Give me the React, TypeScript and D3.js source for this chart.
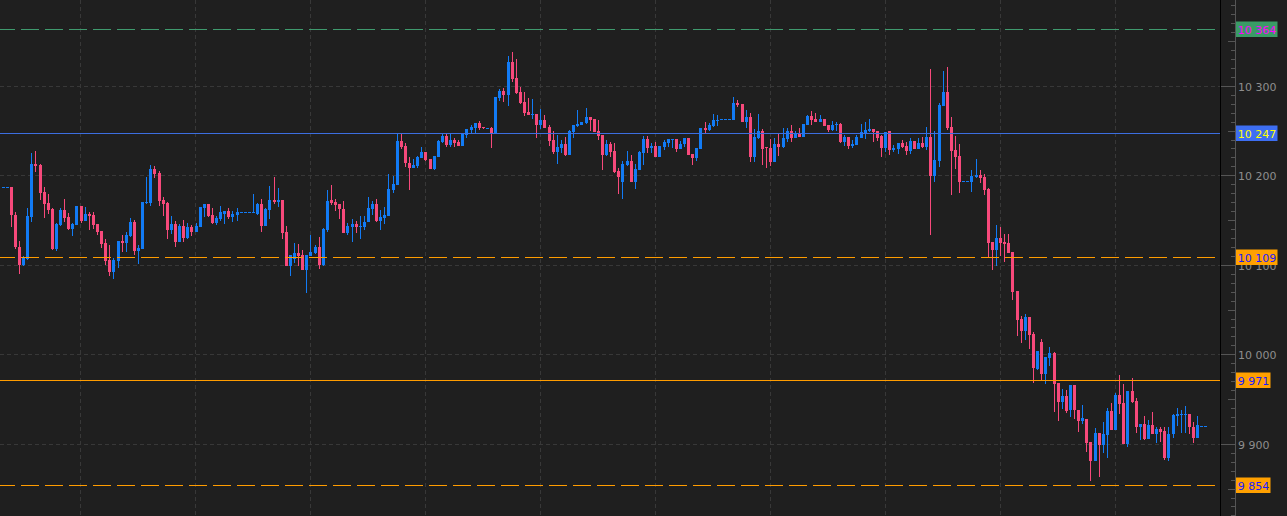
import * as d3 from "d3";

// Candle chart — dark theme, price axis on the right, coloured level lines with price tags

const W = 1287;
const H = 516;

const BG = "#1f1f1f";
const UP = "#127bf5";
const DOWN = "#f7497b";
const GRID = "#383838";
const AXIS_TEXT = "#8e8e8e";

const PLOT_RIGHT = 1220; // black separator line
const AXIS_X = 1235; // tick baseline

const opens = [
  10187, 10187, 10188, 10156, 10120, 10100, 10107, 10154, 10213, 10212,
  10182, 10170, 10163, 10118, 10145, 10162, 10154, 10141, 10145, 10166,
  10150, 10157, 10156, 10146, 10138, 10125, 10106, 10092, 10105, 10127,
  10125, 10133, 10148, 10116, 10118, 10170, 10170, 10208, 10203, 10173,
  10170, 10140, 10146, 10126, 10144, 10131, 10143, 10137, 10143, 10164,
  10169, 10156, 10147, 10152, 10157, 10161, 10154, 10156, 10159, 10159,
  10159, 10158, 10157, 10169, 10144, 10162, 10173, 10171, 10173, 10137,
  10099, 10107, 10114, 10112, 10095, 10110, 10114, 10121, 10100, 10140,
  10173, 10171, 10169, 10163, 10136, 10143, 10146, 10143, 10143, 10148,
  10163, 10169, 10150, 10153, 10155, 10184, 10190, 10239, 10233, 10214,
  10209, 10211, 10220, 10227, 10219, 10208, 10221, 10238, 10244, 10234,
  10240, 10238, 10233, 10246, 10251, 10253, 10259, 10255, 10253, 10253,
  10248, 10287, 10295, 10290, 10327, 10309, 10294, 10282, 10271, 10269,
  10269, 10257, 10262, 10255, 10240, 10227, 10231, 10235, 10223, 10249,
  10256, 10257, 10259, 10266, 10264, 10250, 10246, 10223, 10235, 10228,
  10205, 10193, 10212, 10216, 10193, 10207, 10226, 10241, 10231, 10233,
  10221, 10232, 10237, 10240, 10241, 10230, 10235, 10242, 10224, 10220,
  10230, 10253, 10251, 10256, 10262, 10263, 10263, 10263, 10262, 10281,
  10280, 10260, 10266, 10221, 10242, 10250, 10232, 10231, 10215, 10236,
  10232, 10241, 10250, 10242, 10247, 10243, 10257, 10267, 10264, 10260,
  10264, 10257, 10251, 10257, 10258, 10238, 10243, 10233, 10234, 10242,
  10248, 10250, 10252, 10250, 10245, 10231, 10250, 10229, 10230, 10237,
  10233, 10228, 10239, 10230, 10237, 10232, 10243, 10200, 10217, 10278,
  10294, 10255, 10229, 10222, 10194, 10194, 10193, 10199, 10201, 10199,
  10185, 10126, 10117, 10131, 10126, 10125, 10115, 10071, 10040, 10027,
  10042, 10023, 9984, 10014, 9979, 9996, 10002, 9968, 9947, 9954,
  9938, 9966, 9938, 9926, 9928, 9903, 9881, 9913, 9899, 9910,
  9937, 9916, 9955, 9946, 9900, 9960, 9948, 9919, 9923, 9906,
  9922, 9912, 9917, 9915, 9885, 9911, 9932, 9933, 9933, 9934,
  9919, 9907, 9921, 9921,
];

const highs = [
  10187, 10187, 10188, 10160, 10127, 10110, 10164, 10226, 10228, 10213,
  10188, 10180, 10164, 10147, 10164, 10174, 10158, 10147, 10166, 10166,
  10165, 10159, 10159, 10146, 10138, 10129, 10123, 10108, 10127, 10134,
  10137, 10153, 10151, 10123, 10171, 10199, 10212, 10211, 10205, 10176,
  10171, 10155, 10150, 10146, 10151, 10147, 10145, 10147, 10165, 10169,
  10169, 10164, 10155, 10166, 10161, 10164, 10161, 10164, 10159, 10159,
  10159, 10180, 10170, 10174, 10164, 10189, 10199, 10186, 10173, 10144,
  10112, 10125, 10124, 10117, 10112, 10134, 10123, 10132, 10142, 10184,
  10190, 10174, 10169, 10172, 10147, 10152, 10150, 10155, 10155, 10176,
  10172, 10174, 10162, 10165, 10202, 10200, 10247, 10247, 10237, 10221,
  10219, 10222, 10232, 10227, 10219, 10222, 10240, 10247, 10247, 10247,
  10242, 10240, 10248, 10252, 10257, 10259, 10261, 10255, 10253, 10255,
  10288, 10297, 10298, 10334, 10338, 10331, 10299, 10294, 10287, 10286,
  10269, 10275, 10268, 10257, 10250, 10246, 10240, 10243, 10251, 10257,
  10274, 10260, 10276, 10266, 10264, 10262, 10246, 10240, 10238, 10237,
  10209, 10217, 10228, 10223, 10213, 10228, 10245, 10245, 10237, 10238,
  10233, 10240, 10241, 10241, 10241, 10239, 10242, 10242, 10224, 10231,
  10253, 10260, 10259, 10269, 10268, 10263, 10263, 10263, 10288, 10285,
  10280, 10274, 10270, 10252, 10269, 10252, 10232, 10241, 10242, 10247,
  10253, 10253, 10257, 10250, 10253, 10258, 10268, 10272, 10270, 10268,
  10264, 10257, 10261, 10260, 10259, 10246, 10243, 10240, 10246, 10258,
  10260, 10264, 10252, 10250, 10246, 10249, 10250, 10234, 10237, 10240,
  10238, 10242, 10239, 10242, 10243, 10255, 10319, 10250, 10281, 10317,
  10322, 10266, 10245, 10236, 10194, 10194, 10207, 10219, 10207, 10202,
  10186, 10126, 10145, 10143, 10135, 10135, 10115, 10071, 10043, 10046,
  10042, 10026, 10004, 10018, 9998, 10009, 10003, 9968, 9962, 9961,
  9966, 9966, 9938, 9944, 9928, 9903, 9918, 9913, 9925, 9941,
  9946, 9957, 9977, 9967, 9960, 9974, 9952, 9923, 9932, 9927,
  9936, 9919, 9919, 9919, 9919, 9934, 9941, 9938, 9943, 9934,
  9925, 9932, 9921, 9921,
];

const lows = [
  10187, 10187, 10143, 10118, 10090, 10099, 10106, 10148, 10204, 10173,
  10153, 10157, 10117, 10116, 10144, 10148, 10140, 10133, 10145, 10147,
  10149, 10139, 10141, 10134, 10119, 10100, 10088, 10085, 10097, 10115,
  10115, 10132, 10112, 10102, 10118, 10169, 10166, 10198, 10166, 10155,
  10129, 10135, 10121, 10126, 10126, 10129, 10133, 10137, 10143, 10154,
  10154, 10146, 10145, 10150, 10146, 10152, 10148, 10150, 10159, 10159,
  10159, 10158, 10156, 10137, 10144, 10152, 10169, 10165, 10129, 10099,
  10088, 10103, 10099, 10095, 10069, 10110, 10113, 10096, 10099, 10137,
  10167, 10161, 10152, 10136, 10134, 10126, 10136, 10129, 10139, 10148,
  10156, 10148, 10139, 10146, 10155, 10181, 10190, 10230, 10210, 10184,
  10209, 10209, 10220, 10217, 10208, 10206, 10221, 10237, 10232, 10232,
  10232, 10233, 10233, 10242, 10248, 10248, 10251, 10252, 10253, 10231,
  10248, 10284, 10282, 10278, 10305, 10291, 10280, 10267, 10268, 10264,
  10242, 10252, 10253, 10233, 10224, 10213, 10226, 10222, 10223, 10242,
  10255, 10257, 10258, 10250, 10249, 10240, 10207, 10222, 10221, 10203,
  10180, 10174, 10211, 10193, 10185, 10207, 10212, 10226, 10226, 10221,
  10221, 10229, 10232, 10231, 10227, 10230, 10232, 10223, 10212, 10216,
  10230, 10248, 10250, 10255, 10256, 10263, 10263, 10263, 10262, 10277,
  10260, 10253, 10215, 10215, 10241, 10212, 10209, 10211, 10215, 10222,
  10231, 10238, 10238, 10242, 10243, 10243, 10257, 10257, 10260, 10260,
  10256, 10249, 10250, 10250, 10237, 10233, 10230, 10231, 10234, 10242,
  10241, 10249, 10238, 10239, 10221, 10227, 10223, 10227, 10224, 10231,
  10223, 10224, 10230, 10230, 10231, 10229, 10134, 10193, 10210, 10278,
  10251, 10179, 10208, 10181, 10194, 10194, 10182, 10197, 10192, 10179,
  10109, 10095, 10099, 10110, 10104, 10114, 10061, 10021, 10013, 10017,
  10007, 9969, 9983, 9972, 9967, 9987, 9936, 9926, 9940, 9935,
  9931, 9928, 9914, 9923, 9891, 9859, 9881, 9863, 9890, 9885,
  9916, 9916, 9934, 9900, 9897, 9946, 9913, 9905, 9905, 9906,
  9911, 9901, 9903, 9882, 9881, 9907, 9920, 9913, 9913, 9912,
  9901, 9907, 9921, 9921,
];

const closes = [
  10187, 10187, 10156, 10120, 10100, 10109, 10155, 10213, 10211, 10181,
  10169, 10162, 10118, 10146, 10162, 10153, 10141, 10146, 10166, 10150,
  10157, 10155, 10145, 10137, 10124, 10105, 10092, 10106, 10127, 10125,
  10134, 10148, 10116, 10119, 10171, 10171, 10208, 10202, 10172, 10169,
  10140, 10146, 10126, 10144, 10131, 10143, 10137, 10144, 10165, 10169,
  10155, 10147, 10153, 10159, 10161, 10154, 10157, 10159, 10159, 10159,
  10159, 10159, 10169, 10144, 10163, 10173, 10171, 10173, 10136, 10099,
  10112, 10114, 10110, 10095, 10112, 10115, 10121, 10100, 10141, 10172,
  10170, 10167, 10163, 10136, 10144, 10146, 10143, 10144, 10148, 10164,
  10169, 10150, 10154, 10156, 10185, 10191, 10239, 10232, 10214, 10209,
  10212, 10221, 10227, 10218, 10208, 10222, 10239, 10244, 10234, 10240,
  10237, 10233, 10248, 10252, 10255, 10259, 10253, 10253, 10253, 10248,
  10288, 10295, 10290, 10327, 10308, 10293, 10281, 10270, 10268, 10269,
  10257, 10262, 10253, 10239, 10227, 10232, 10235, 10223, 10250, 10257,
  10258, 10260, 10266, 10262, 10249, 10245, 10223, 10235, 10227, 10204,
  10199, 10213, 10216, 10193, 10208, 10227, 10241, 10231, 10233, 10221,
  10233, 10238, 10241, 10241, 10230, 10236, 10242, 10223, 10220, 10231,
  10253, 10251, 10257, 10262, 10262, 10263, 10263, 10263, 10281, 10279,
  10260, 10266, 10221, 10243, 10250, 10230, 10231, 10215, 10236, 10232,
  10242, 10250, 10242, 10247, 10243, 10258, 10267, 10262, 10260, 10264,
  10256, 10251, 10257, 10258, 10238, 10243, 10233, 10236, 10243, 10249,
  10251, 10252, 10249, 10242, 10231, 10249, 10229, 10231, 10237, 10232,
  10228, 10239, 10230, 10237, 10232, 10243, 10200, 10218, 10279, 10294,
  10253, 10228, 10221, 10193, 10194, 10194, 10200, 10201, 10198, 10184,
  10125, 10117, 10131, 10125, 10124, 10114, 10070, 10039, 10027, 10042,
  10022, 9985, 10004, 9979, 9998, 10002, 9967, 9947, 9954, 9937,
  9966, 9938, 9926, 9929, 9902, 9881, 9913, 9899, 9912, 9937,
  9916, 9955, 9945, 9900, 9960, 9947, 9919, 9923, 9906, 9922,
  9912, 9917, 9914, 9885, 9912, 9933, 9934, 9934, 9934, 9919,
  9907, 9922, 9921, 9921,
];

// price levels drawn across the chart, with their tags on the axis
const levelPrices = [10364, 10247, 10109, 9971, 9854];
const LEVEL_STYLES = [
  { line: "#3f9a6e", dash: "18 6", box: "#3a9b66", text: "#ff00ff" },
  { line: "#3c6ee0", dash: "", box: "#3d6ef2", text: "#ffff00" },
  { line: "#ff9c00", dash: "18 6", box: "#ffa000", text: "#1a1aff" },
  { line: "#ff9c00", dash: "", box: "#ffa000", text: "#1a1aff" },
  { line: "#ff9c00", dash: "18 6", box: "#ffa000", text: "#1a1aff" },
];

const tickLabels = [10300, 10200, 10100, 10000, 9900];

const fmt = d3
  .formatLocale({ decimal: ".", thousands: " ", grouping: [3], currency: ["", ""] })
  .format(",d");

export default function App() {
  const n = opens.length;
  const x = d3.scaleLinear().domain([0, n - 1]).range([3.1, 1205.9]);
  const y = d3.scaleLinear().domain([9900, 10300]).range([444.3, 86.3]);

  const px = (v: number) => Math.floor(v) + 0.5;

  // axis ticks every 10 points inside the visible band
  const lo = Math.ceil(y.invert(H) / 10) * 10;
  const hi = Math.floor(y.invert(0) / 10) * 10;
  const ticks = d3.range(lo, hi + 1, 10);

  const vGrid = d3.range(80, PLOT_RIGHT, 115);

  const textW = (s: string) =>
    s.split("").reduce((a, ch) => a + (ch === " " ? 3.5 : 7), 0);

  return (
    <>
      <style>{`body{margin:0;background:${BG}}`}</style>
      <svg width={W} height={H} style={{ display: "block", background: BG }}>
        <rect x={0} y={0} width={W} height={H} fill={BG} />

        {/* grid */}
        <g stroke={GRID} strokeWidth={1} strokeDasharray="4 3">
          {tickLabels.map((t) => (
            <line key={t} x1={0} x2={PLOT_RIGHT} y1={px(y(t))} y2={px(y(t))} />
          ))}
          {vGrid.map((gx) => (
            <line key={gx} x1={gx + 0.5} x2={gx + 0.5} y1={0} y2={H} />
          ))}
        </g>

        {/* candles */}
        <g shapeRendering="crispEdges">
          {opens.map((o, i) => {
            const c = closes[i];
            const col = c >= o ? UP : DOWN;
            const bx = Math.round(x(i) - 1.5);
            const top = Math.round(y(Math.max(o, c)));
            const bot = Math.round(y(Math.min(o, c)));
            const wt = Math.round(y(highs[i]));
            const wb = Math.round(y(lows[i]));
            return (
              <g key={i} fill={col}>
                <rect x={bx + 1} y={wt} width={1} height={Math.max(1, wb - wt)} />
                <rect x={bx} y={top} width={3} height={Math.max(1, bot - top)} />
              </g>
            );
          })}
        </g>

        {/* level lines */}
        {levelPrices.map((p, i) => (
          <line
            key={p}
            x1={0}
            x2={PLOT_RIGHT}
            y1={px(y(p))}
            y2={px(y(p))}
            stroke={LEVEL_STYLES[i].line}
            strokeWidth={1}
            strokeDasharray={LEVEL_STYLES[i].dash || undefined}
            strokeDashoffset={3}
          />
        ))}

        {/* price axis */}
        <line x1={PLOT_RIGHT + 0.5} x2={PLOT_RIGHT + 0.5} y1={0} y2={H} stroke="#000" />
        <line x1={AXIS_X + 0.5} x2={AXIS_X + 0.5} y1={0} y2={H} stroke="#555" />
        <g stroke="#555" shapeRendering="crispEdges">
          {ticks.map((t) => {
            const len = t % 100 === 0 ? AXIS_X - PLOT_RIGHT - 1 : t % 50 === 0 ? 7 : 4;
            return (
              <line key={t} x1={AXIS_X - len} x2={AXIS_X + 1} y1={px(y(t))} y2={px(y(t))} />
            );
          })}
        </g>
        <g fontFamily="'DejaVu Sans', Verdana, sans-serif" fontSize={11} fill={AXIS_TEXT}>
          {tickLabels.map((t) => (
            <text key={t} x={1238} y={Math.floor(y(t)) + 4.5}>
              {fmt(t)}
            </text>
          ))}
        </g>

        {/* level tags */}
        <g fontFamily="'DejaVu Sans', Verdana, sans-serif" fontSize={11}>
          {levelPrices.map((p, i) => {
            const yy = Math.floor(y(p));
            const label = fmt(p);
            return (
              <g key={p}>
                <rect
                  x={1236}
                  y={yy - 7.5}
                  width={textW(label) + 3}
                  height={15.5}
                  fill={LEVEL_STYLES[i].box}
                />
                <text x={1237.7} y={yy + 4.5} fill={LEVEL_STYLES[i].text}>
                  {label}
                </text>
              </g>
            );
          })}
        </g>
      </svg>
    </>
  );
}
